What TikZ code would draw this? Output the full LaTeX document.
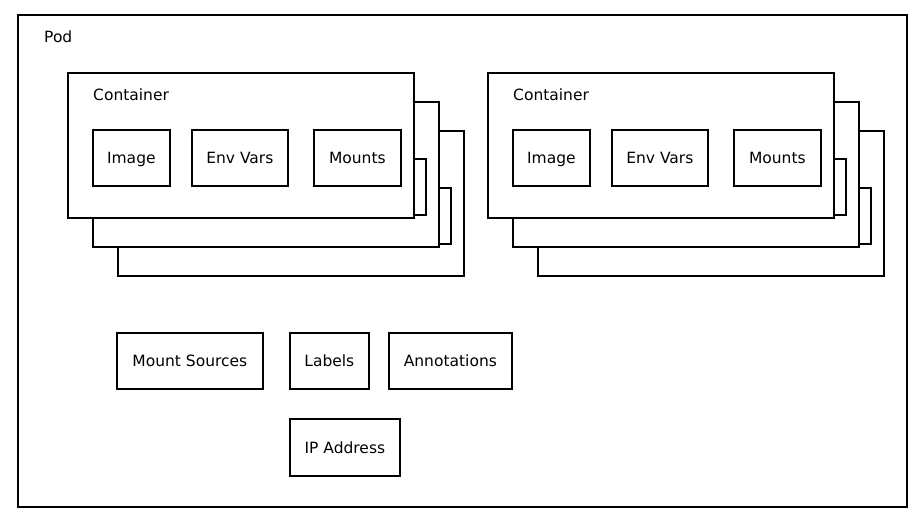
\documentclass[tikz,border=0pt]{standalone}
\usepackage{fontspec}
\setmainfont{DejaVu Sans}
\tikzset{
  txt/.style={font=\fontsize{15.5}{18}\selectfont},
  box/.style={txt, draw, line width=1.7pt, fill=white, anchor=north west,
    minimum height=56pt, inner sep=0pt, text height=11.3pt, text depth=0pt},
  ctrbox/.style={draw, line width=1.7pt, fill=white, anchor=north west,
    minimum width=346pt, minimum height=145pt, inner sep=0pt}
}
\begin{document}
\begin{tikzpicture}[x=1pt, y=-1pt]
\useasboundingbox (0,0) rectangle (924,524);
\node[draw, line width=2pt, anchor=north west, minimum width=889pt, minimum height=492pt, inner sep=0pt] (pod) at (17,14) {};
\node[txt, anchor=west, inner sep=0pt] (podlbl) at (44,37) {Pod};

% two stacks of containers, back to front; only the front one shows its texts
\foreach \g in {0,420} {
  \foreach \d in {2,1,0} {
    \begin{scope}[shift={(\g+25*\d, 29*\d)}]
    \node[ctrbox] (ctr-\g-\d) at (67,72) {};
    \node[box, minimum width=77pt] (img-\g-\d) at (92,129) {\ifnum\d=0 Image\fi};
    \node[box, minimum width=96pt] (env-\g-\d) at (191,129) {\ifnum\d=0 Env Vars\fi};
    \node[box, minimum width=87pt] (mnt-\g-\d) at (313,129) {\ifnum\d=0 Mounts\fi};
    \end{scope}
  }
  \node[txt, anchor=west, inner sep=0pt] (ctrlbl-\g) at (\g+93,95) {Container};
}

\node[box, minimum width=146pt] (src) at (116,332) {Mount Sources};
\node[box, minimum width=79pt] (lbl) at (289,332) {Labels};
\node[box, minimum width=123pt] (ann) at (388,332) {Annotations};
\node[box, minimum width=110pt, minimum height=57pt] (ip) at (289,418) {IP Address};

\end{tikzpicture}
\end{document}
